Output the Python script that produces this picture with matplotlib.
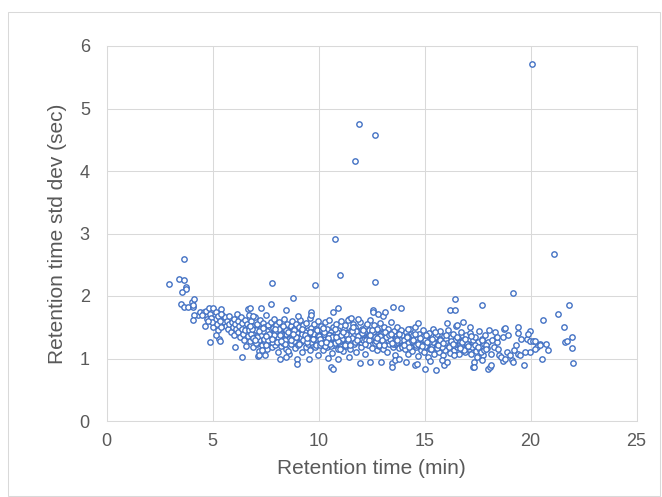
import matplotlib
matplotlib.use("Agg")
import matplotlib.pyplot as plt
from matplotlib.patches import Rectangle
import numpy as np

# ---------- data (retention time in min, std dev in sec) ----------

# early eluting peptides, 2.9 - 6.7 min
rt_a = [2.95, 3.40, 3.66, 3.67, 3.73, 3.75, 3.55, 3.53, 3.67, 3.83,
        4.02, 4.13, 4.08, 4.06, 4.33, 4.14, 4.08, 4.41, 4.59, 4.69,
        4.82, 5.04, 4.87, 4.72, 4.65, 5.04, 4.90, 5.31, 5.35, 5.40,
        5.45, 5.50, 5.55, 5.60, 5.62, 5.70, 5.72, 5.78, 5.80, 5.85,
        5.90, 5.95, 6.00, 6.02, 6.06, 6.08, 6.12, 6.15, 6.18, 6.22,
        6.25, 6.30, 6.33, 6.38, 6.40, 6.41, 6.45, 6.50, 6.52, 6.55,
        6.58, 6.62, 6.66, 6.69, 6.70, 6.72, 5.10, 5.15, 5.20, 5.25,
        5.28, 5.35, 5.38, 5.42, 4.95, 4.98, 4.50, 4.78, 5.18, 7.16]
sd_a = [2.20, 2.27, 2.60, 2.25, 2.14, 2.11, 2.06, 1.88, 1.83, 1.83,
        1.91, 1.95, 1.82, 1.86, 1.69, 1.70, 1.62, 1.74, 1.74, 1.76,
        1.81, 1.81, 1.72, 1.64, 1.52, 1.50, 1.26, 1.31, 1.28, 1.79,
        1.70, 1.62, 1.58, 1.66, 1.52, 1.60, 1.47, 1.55, 1.68, 1.42,
        1.58, 1.50, 1.63, 1.38, 1.19, 1.55, 1.47, 1.72, 1.60, 1.43,
        1.52, 1.35, 1.66, 1.02, 1.48, 1.57, 1.40, 1.30, 1.62, 1.45,
        1.20, 1.55, 1.36, 1.80, 1.70, 1.50, 1.64, 1.75, 1.55, 1.68,
        1.46, 1.60, 1.72, 1.50, 1.65, 1.58, 1.70, 1.60, 1.38, 1.04]

# 6.7 - 10 min
rt_b = [6.74, 6.78, 6.81, 6.85, 6.88, 6.91, 6.95, 6.99, 7.02, 7.05,
        7.08, 7.12, 7.15, 7.19, 7.22, 7.25, 7.28, 7.32, 7.35, 7.38,
        7.41, 7.45, 7.48, 7.51, 7.55, 7.58, 7.61, 7.64, 7.68, 7.71,
        7.74, 7.78, 7.81, 7.84, 7.87, 7.90, 7.94, 7.97, 8.00, 8.03,
        8.07, 8.10, 8.13, 8.16, 8.19, 8.23, 8.26, 8.29, 8.32, 8.36,
        8.39, 8.42, 8.45, 8.49, 8.52, 8.55, 8.58, 8.62, 8.65, 8.68,
        8.71, 8.74, 8.78, 8.81, 8.84, 8.87, 8.91, 8.94, 8.97, 9.00,
        9.04, 9.07, 9.10, 9.13, 9.17, 9.20, 9.23, 9.26, 9.29, 9.33,
        9.36, 9.39, 9.42, 9.46, 9.49, 9.52, 9.55, 9.59, 9.62, 9.65,
        9.68, 9.71, 9.75, 9.78, 9.81, 9.84, 9.88, 9.91, 9.94, 9.97,
        6.80, 6.93, 7.04, 7.17, 7.30, 7.43, 7.57, 7.70, 7.83, 7.96,
        8.09, 8.21, 8.34, 8.47, 8.60, 8.73, 8.86, 8.99, 9.12, 9.25,
        9.38, 9.51, 9.64, 9.77, 9.90, 6.87, 7.10, 7.37, 7.63, 7.92,
        8.15, 8.41, 8.70, 8.95, 9.22, 9.48, 9.73, 9.98, 7.48, 8.55,
        6.77, 7.30, 7.75, 8.47, 9.03, 9.63, 9.63, 6.93, 7.18, 8.20,
        8.45, 8.97, 8.97, 9.57, 9.96, 7.33,
        6.76, 6.90, 7.06, 7.21, 7.39, 7.53, 7.66, 7.79, 7.93, 8.06,
        8.18, 8.31, 8.44, 8.57, 8.69, 8.83, 8.96, 9.09, 9.21, 9.35,
        9.47, 9.60, 9.74, 9.86, 9.95, 7.00, 7.50, 8.25, 8.80, 9.45]
sd_b = [1.45, 1.28, 1.60, 1.37, 1.52, 1.19, 1.41, 1.66, 1.33, 1.48,
        1.24, 1.55, 1.39, 1.12, 1.47, 1.62, 1.30, 1.43, 1.21, 1.57,
        1.36, 1.50, 1.27, 1.69, 1.40, 1.15, 1.53, 1.34, 1.46, 1.26,
        1.58, 1.38, 1.18, 1.49, 1.31, 1.64, 1.42, 1.22, 1.54, 1.35,
        1.10, 1.46, 1.29, 1.59, 1.37, 1.20, 1.51, 1.41, 1.25, 1.63,
        1.33, 1.47, 1.16, 1.39, 1.56, 1.28, 1.44, 1.08, 1.35, 1.52,
        1.23, 1.60, 1.40, 1.30, 1.48, 1.17, 1.36, 1.55, 1.27, 1.43,
        1.21, 1.50, 1.34, 1.62, 1.26, 1.45, 1.11, 1.38, 1.53, 1.29,
        1.41, 1.19, 1.57, 1.32, 1.46, 1.24, 1.37, 1.65, 1.14, 1.49,
        1.30, 1.42, 1.22, 1.56, 1.35, 1.18, 1.47, 1.27, 1.39, 1.60,
        1.40, 1.33, 1.46, 1.29, 1.38, 1.31, 1.44, 1.36, 1.27, 1.42,
        1.34, 1.39, 1.30, 1.45, 1.32, 1.37, 1.28, 1.41, 1.35, 1.30,
        1.43, 1.33, 1.26, 1.39, 1.31, 1.48, 1.35, 1.44, 1.30, 1.38,
        1.47, 1.29, 1.42, 1.34, 1.40, 1.36, 1.32, 1.37, 1.05, 1.12,
        1.81, 1.81, 1.88, 1.77, 1.68, 1.74, 1.70, 1.68, 1.05, 1.00,
        1.02, 0.99, 0.92, 0.99, 1.06, 1.14,
        1.52, 1.33, 1.25, 1.44, 1.49, 1.22, 1.40, 1.31, 1.47, 1.26,
        1.38, 1.52, 1.23, 1.42, 1.29, 1.45, 1.34, 1.24, 1.48, 1.37,
        1.27, 1.43, 1.32, 1.21, 1.46, 1.30, 1.36, 1.28, 1.40, 1.33]

# 10 - 14 min
rt_c = [10.02, 10.06, 10.10, 10.14, 10.18, 10.22, 10.26, 10.30, 10.34, 10.38,
        10.42, 10.46, 10.50, 10.54, 10.58, 10.62, 10.66, 10.70, 10.74, 10.78,
        10.82, 10.86, 10.90, 10.94, 10.98, 11.02, 11.06, 11.10, 11.14, 11.18,
        11.22, 11.26, 11.30, 11.34, 11.38, 11.42, 11.46, 11.50, 11.54, 11.58,
        11.62, 11.66, 11.70, 11.74, 11.78, 11.82, 11.86, 11.90, 11.94, 11.98,
        12.02, 12.06, 12.10, 12.14, 12.18, 12.22, 12.26, 12.30, 12.34, 12.38,
        12.42, 12.46, 12.50, 12.54, 12.58, 12.62, 12.66, 12.70, 12.74, 12.78,
        12.82, 12.86, 12.90, 12.94, 12.98, 13.02, 13.06, 13.10, 13.14, 13.18,
        13.22, 13.26, 13.30, 13.34, 13.38, 13.42, 13.46, 13.50, 13.54, 13.58,
        13.62, 13.66, 13.70, 13.74, 13.78, 13.82, 13.86, 13.90, 13.94, 13.98,
        10.08, 10.24, 10.40, 10.56, 10.72, 10.88, 11.04, 11.20, 11.36, 11.52,
        11.68, 11.84, 12.00, 12.16, 12.32, 12.48, 12.64, 12.80, 12.96, 13.12,
        13.28, 13.44, 13.60, 13.76, 13.92, 10.16, 10.48, 10.80, 11.12, 11.44,
        11.76, 12.08, 12.40, 12.72, 13.04, 13.36, 13.68, 13.96, 10.32, 10.96,
        11.60, 12.24, 12.88, 13.52, 11.28, 11.92, 12.56, 13.20, 13.84, 10.64,
        10.67, 10.94, 11.40, 11.55, 11.85, 12.29, 12.56, 12.56, 12.82, 13.03,
        13.13, 10.45, 10.60, 10.68, 10.90, 11.43, 11.97, 12.43, 12.95, 13.47,
        13.47, 13.60, 13.80,
        10.12, 10.28, 10.44, 10.60, 10.76, 10.92, 11.08, 11.24, 11.40, 11.56,
        11.72, 11.88, 12.04, 12.20, 12.36, 12.52, 12.68, 12.84, 13.00, 13.16,
        13.32, 13.48, 13.64, 13.80, 13.96, 10.20, 10.52, 10.84, 11.16, 11.48,
        11.80, 12.12, 12.44, 12.76, 13.08, 13.40, 13.72, 10.36, 11.00, 11.64]
sd_c = [1.36, 1.21, 1.52, 1.30, 1.44, 1.13, 1.39, 1.58, 1.27, 1.47,
        1.18, 1.35, 1.62, 1.25, 1.42, 1.09, 1.33, 1.50, 1.22, 1.40,
        1.56, 1.29, 1.15, 1.45, 1.34, 1.24, 1.60, 1.37, 1.12, 1.48,
        1.31, 1.53, 1.20, 1.41, 1.27, 1.64, 1.35, 1.16, 1.46, 1.30,
        1.55, 1.23, 1.38, 1.50, 1.10, 1.33, 1.44, 1.26, 1.59, 1.36,
        1.19, 1.47, 1.31, 1.40, 1.07, 1.52, 1.28, 1.37, 1.22, 1.45,
        1.61, 1.32, 1.17, 1.43, 1.29, 1.54, 1.25, 1.39, 1.13, 1.48,
        1.34, 1.20, 1.57, 1.30, 1.42, 1.15, 1.36, 1.51, 1.26, 1.40,
        1.11, 1.33, 1.47, 1.23, 1.38, 1.58, 1.28, 1.19, 1.44, 1.31,
        1.06, 1.36, 1.50, 1.24, 1.41, 1.17, 1.32, 1.45, 1.21, 1.35,
        1.32, 1.40, 1.28, 1.37, 1.34, 1.43, 1.30, 1.36, 1.41, 1.29,
        1.38, 1.33, 1.27, 1.42, 1.35, 1.31, 1.39, 1.26, 1.34, 1.40,
        1.29, 1.36, 1.23, 1.33, 1.28, 1.45, 1.38, 1.25, 1.31, 1.37,
        1.44, 1.30, 1.35, 1.28, 1.41, 1.32, 1.27, 1.38, 1.20, 1.26,
        1.33, 1.29, 1.36, 1.24, 1.39, 1.31, 1.43, 1.34, 1.30, 1.35,
        1.74, 1.81, 1.62, 1.65, 1.63, 1.55, 1.77, 1.74, 1.71, 1.68,
        1.74, 1.01, 0.86, 0.84, 1.00, 1.02, 0.93, 0.95, 0.95, 0.93,
        0.87, 0.97, 1.00,
        1.25, 1.42, 1.33, 1.20, 1.47, 1.28, 1.38, 1.22, 1.31, 1.44,
        1.26, 1.36, 1.41, 1.23, 1.30, 1.46, 1.34, 1.21, 1.29, 1.43,
        1.37, 1.25, 1.32, 1.40, 1.19, 1.49, 1.24, 1.35, 1.42, 1.21,
        1.29, 1.45, 1.38, 1.33, 1.22, 1.40, 1.30, 1.27, 1.16, 1.50]

# 14 - 18.5 min
rt_d = [14.03, 14.07, 14.11, 14.15, 14.19, 14.23, 14.27, 14.31, 14.35, 14.39,
        14.43, 14.47, 14.51, 14.55, 14.59, 14.63, 14.67, 14.71, 14.75, 14.79,
        14.83, 14.87, 14.91, 14.95, 14.99, 15.03, 15.07, 15.11, 15.15, 15.19,
        15.23, 15.27, 15.31, 15.35, 15.39, 15.43, 15.47, 15.51, 15.55, 15.59,
        15.63, 15.67, 15.71, 15.75, 15.79, 15.83, 15.87, 15.91, 15.95, 15.99,
        16.03, 16.08, 16.13, 16.18, 16.23, 16.28, 16.33, 16.38, 16.43, 16.48,
        16.53, 16.58, 16.63, 16.68, 16.73, 16.78, 16.83, 16.88, 16.93, 16.98,
        17.03, 17.09, 17.15, 17.21, 17.27, 17.33, 17.39, 17.45, 17.51, 17.57,
        17.63, 17.69, 17.75, 17.81, 17.87, 17.93, 17.99, 14.21, 14.61, 15.01,
        15.41, 15.81, 16.21, 16.61, 17.01, 14.41, 14.81, 15.21, 15.61, 16.41,
        14.24, 14.69, 16.05, 16.19, 16.44, 16.55, 16.83, 17.13, 18.06, 18.33,
        18.39, 14.13, 14.57, 14.63, 15.01, 15.26, 15.53, 15.90, 17.29, 17.99,
        18.07, 18.15, 17.89, 17.65, 17.81, 18.12, 18.27, 18.20, 18.43, 17.49,
        17.73, 17.32, 17.25, 17.00, 16.85, 16.70, 16.39, 16.08, 15.84, 17.32,
        14.05, 14.17, 14.29, 14.45, 14.53, 14.69, 14.77, 14.89, 15.05, 15.13,
        15.29, 15.37, 15.49, 15.65, 15.73, 15.89, 16.00, 16.15, 16.26, 16.36,
        16.51, 16.66, 16.76, 16.91, 17.06, 17.18, 17.36, 17.54, 17.72, 17.90]
sd_d = [1.30, 1.16, 1.42, 1.24, 1.36, 1.08, 1.28, 1.47, 1.20, 1.33,
        1.12, 1.38, 1.25, 1.50, 1.18, 1.31, 1.04, 1.27, 1.40, 1.22,
        1.14, 1.35, 1.26, 1.45, 1.10, 1.29, 1.19, 1.37, 1.02, 1.24,
        1.41, 1.15, 1.30, 1.21, 1.48, 1.07, 1.26, 1.34, 1.17, 1.39,
        1.23, 1.11, 1.32, 1.44, 1.19, 1.28, 1.05, 1.36, 1.22, 1.14,
        1.31, 1.25, 1.46, 1.09, 1.35, 1.20, 1.40, 1.13, 1.29, 1.52,
        1.18, 1.33, 1.07, 1.26, 1.43, 1.15, 1.30, 1.21, 1.10, 1.37,
        1.24, 1.16, 1.41, 1.08, 1.29, 1.19, 1.35, 1.12, 1.27, 1.44,
        1.14, 1.32, 1.06, 1.23, 1.38, 1.17, 1.26, 1.25, 1.22, 1.20,
        1.27, 1.18, 1.24, 1.21, 1.19, 1.28, 1.23, 1.26, 1.17, 1.22,
        1.47, 1.57, 1.57, 1.77, 1.77, 1.53, 1.58, 1.51, 1.46, 1.42,
        1.33, 0.95, 0.89, 0.92, 0.84, 0.96, 0.82, 0.90, 0.86, 0.84,
        0.87, 0.90, 1.22, 1.11, 1.14, 1.08, 1.19, 1.30, 1.27, 1.03,
        0.98, 0.95, 1.19, 1.24, 1.13, 1.22, 1.06, 0.95, 0.98, 0.87,
        1.22, 1.35, 1.18, 1.29, 1.40, 1.24, 1.33, 1.20, 1.37, 1.26,
        1.16, 1.32, 1.43, 1.21, 1.30, 1.25, 1.38, 1.19, 1.28, 1.23,
        1.34, 1.17, 1.27, 1.31, 1.20, 1.36, 1.22, 1.18, 1.29, 1.15]

# 18.4 - 22 min
rt_e = [18.50, 18.70, 18.89, 19.11, 19.24, 19.33, 19.55, 19.05, 18.61, 18.81,
        19.17, 19.42, 19.49, 19.82, 19.99, 20.12, 20.23, 20.46, 20.31, 20.43,
        20.20, 19.99, 19.76, 20.72, 20.84, 20.53, 19.68, 18.74, 18.78, 18.70,
        18.92, 19.42, 19.42, 19.99, 19.88, 21.64, 21.72, 21.96, 21.96, 22.02,
        20.59, 21.30, 21.57, 21.81, 18.42, 18.45]
sd_e = [1.06, 0.96, 1.10, 0.98, 1.13, 1.22, 1.31, 1.06, 1.03, 1.00,
        0.95, 1.08, 1.06, 1.31, 1.28, 1.28, 1.28, 1.24, 1.18, 1.22,
        1.16, 1.11, 1.10, 1.24, 1.13, 1.00, 0.90, 1.48, 1.49, 1.35,
        1.37, 1.50, 1.41, 1.44, 1.39, 1.26, 1.28, 1.35, 1.17, 0.93,
        1.61, 1.72, 1.50, 1.86, 1.35, 1.16]

# isolated high points
rt_out = [20.06, 11.91, 12.68, 11.71, 10.79, 11.00, 12.68, 21.11, 7.81, 9.82,
          8.78, 19.16, 16.44, 17.73, 13.51, 13.91]
sd_out = [5.72, 4.76, 4.58, 4.16, 2.91, 2.34, 2.23, 2.67, 2.21, 2.17,
          1.97, 2.05, 1.95, 1.86, 1.83, 1.81]

x_ticks = [0, 5, 10, 15, 20, 25]
y_ticks = [0, 1, 2, 3, 4, 5, 6]

# ------------------------------- plot -----------------------------------------

plt.rcParams["font.family"] = ["Liberation Sans", "DejaVu Sans"]
TXT = "#595959"
GRID = "#d9d9d9"
BLUE = "#4472C4"

fig = plt.figure(figsize=(6.62, 4.97), dpi=100)
fig.patches.append(Rectangle((8 / 662, 0.002), 652 / 662, 1 - 12 / 497 - 0.002,
                             transform=fig.transFigure, fill=False,
                             edgecolor=GRID, linewidth=0.75))
ax = fig.add_axes([106.5 / 662, 76 / 497, 530 / 662, 375 / 497])

rt = np.concatenate([rt_a, rt_b, rt_c, rt_d, rt_e, rt_out])
sd = np.concatenate([sd_a, sd_b, sd_c, sd_d, sd_e, sd_out])
ax.scatter(rt, sd, s=15, facecolors="white", edgecolors=BLUE, linewidths=1.0,
           zorder=3)

ax.set_xlim(0, 25)
ax.set_ylim(0, 6)
ax.set_xticks(x_ticks)
ax.set_yticks(y_ticks)
ax.grid(True, color=GRID, linewidth=0.75)
ax.set_axisbelow(True)
for sp in ax.spines.values():
    sp.set_color(GRID)
    sp.set_linewidth(0.75)
ax.tick_params(length=0, labelsize=13, labelcolor=TXT)
ax.tick_params(axis="x", pad=9)
ax.tick_params(axis="y", pad=12)
ax.set_xlabel("Retention time (min)", fontsize=15, color=TXT, labelpad=6)
ax.set_ylabel("Retention time std dev (sec)", fontsize=15, color=TXT, labelpad=9)

fig.savefig("out.png", dpi=100)
